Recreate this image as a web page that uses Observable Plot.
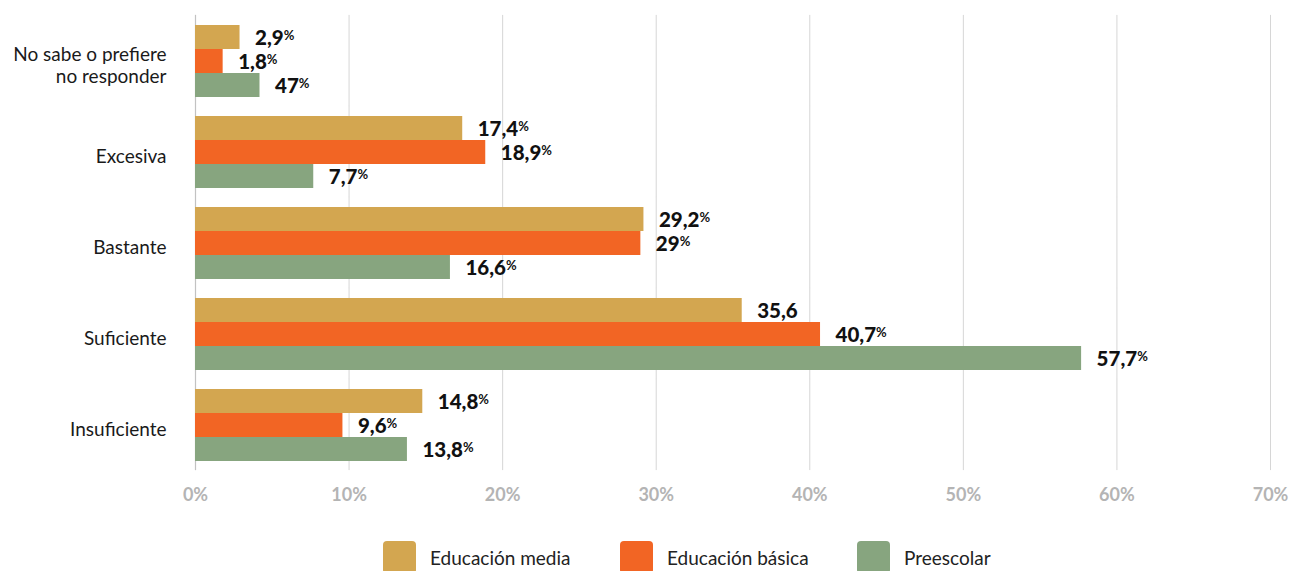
<!DOCTYPE html>
<html>
<head>
<meta charset="utf-8">
<script src="https://cdn.jsdelivr.net/npm/d3@7"></script>
<script src="https://cdn.jsdelivr.net/npm/@observablehq/plot@0.6"></script>
<style>
  html, body { margin: 0; padding: 0; background: #fff; }
  body { font-family: Lato, "Noto Sans", sans-serif; width: 1292px; }
  #chart svg { display: block; overflow: visible; }
  g[aria-label="x-axis tick label"] text { font-weight: 700; fill: #b4b4b4; }
  g[aria-label="fy-axis tick label"] text { fill: #1a1a1a; }
  .legend { display: flex; margin-top: 21px; padding-left: 383px; }
  .legend .item { display: flex; align-items: center; width: 237px; }
  .legend .sw { width: 33px; height: 33px; border-radius: 4px; margin-right: 14px; }
  .legend .lb { font-size: 19px; color: #222; }
</style>
</head>
<body>
<div id="chart"></div>
<div class="legend" id="legend"></div>
<script>
const categories = ["No sabe o prefiere\nno responder", "Excesiva", "Bastante", "Suficiente", "Insuficiente"];
const series = ["Educación media", "Educación básica", "Preescolar"];
const colors = ["#D3A650", "#F26524", "#87A57F"];
const mediaValues = [2.9, 17.4, 29.2, 35.6, 14.8];
const basicaValues = [1.8, 18.9, 29.0, 40.7, 9.6];
const preescolarValues = [4.2, 7.7, 16.6, 57.7, 13.8];
const mediaLabels = ["2,9%", "17,4%", "29,2%", "35,6", "14,8%"];
const basicaLabels = ["1,8%", "18,9%", "29%", "40,7%", "9,6%"];
const preescolarLabels = ["47%", "7,7%", "16,6%", "57,7%", "13,8%"];
const xTicks = [0, 10, 20, 30, 40, 50, 60, 70];

const valueSets = [mediaValues, basicaValues, preescolarValues];
const labelSets = [mediaLabels, basicaLabels, preescolarLabels];
const data = [];
categories.forEach((c, i) => {
  series.forEach((s, j) => {
    data.push({category: c, series: s, value: valueSets[j][i], label: labelSets[j][i]});
  });
});

const chart = Plot.plot({
  width: 1292,
  height: 520,
  marginLeft: 195,
  marginRight: 22,
  marginTop: 15,
  marginBottom: 50,
  style: {fontFamily: "Lato, 'Noto Sans', sans-serif", background: "#fff"},
  x: {domain: [0, 70]},
  y: {domain: series, axis: null, padding: 0},
  fy: {domain: categories, paddingInner: 0.2, paddingOuter: 0.1},
  color: {domain: series, range: colors},
  marks: [
    Plot.ruleX(xTicks, {stroke: "#d6d6d6", strokeWidth: 1, insetTop: -9.1, insetBottom: -9.1}),
    Plot.ruleX([0], {stroke: "#c2c2c2", strokeWidth: 1.2, insetTop: -9.1, insetBottom: -9.1}),
    Plot.barX(data, {x: "value", y: "series", fy: "category", fill: "series"}),
    Plot.text(data, {x: "value", y: "series", fy: "category", text: "label", textAnchor: "start", dx: 15, dy: 1, fontSize: 20.5, fontWeight: 900, fill: "#111", ariaDescription: "value-label"}),
    Plot.axisX({ticks: xTicks, tickFormat: d => d + "%", tickSize: 0, tickPadding: 27, fontSize: 18, label: null}),
    Plot.axisFy({anchor: "left", tickSize: 0, tickPadding: 29, fontSize: 19, lineHeight: 1.15, dy: 4, label: null})
  ]
});
document.getElementById("chart").appendChild(chart);

// small raised percent sign on the value labels
const labelSet = new Set([...mediaLabels, ...basicaLabels, ...preescolarLabels]);
chart.querySelectorAll("text").forEach(t => {
  if (t.closest('g[aria-label="x-axis tick label"]')) return;
  if (t.querySelector("tspan")) return;
  const s = t.textContent;
  if (labelSet.has(s) && s.endsWith("%")) {
    t.textContent = s.slice(0, -1);
    const ts = document.createElementNS("http://www.w3.org/2000/svg", "tspan");
    ts.setAttribute("font-size", "13");
    ts.setAttribute("font-weight", "700");
    ts.setAttribute("dy", "-5");
    ts.textContent = "%";
    t.appendChild(ts);
  }
});

const legend = document.getElementById("legend");
series.forEach((s, i) => {
  const item = document.createElement("div");
  item.className = "item";
  const sw = document.createElement("div");
  sw.className = "sw";
  sw.style.background = colors[i];
  const lb = document.createElement("span");
  lb.className = "lb";
  lb.textContent = s;
  item.appendChild(sw);
  item.appendChild(lb);
  legend.appendChild(item);
});
</script>
</body>
</html>
